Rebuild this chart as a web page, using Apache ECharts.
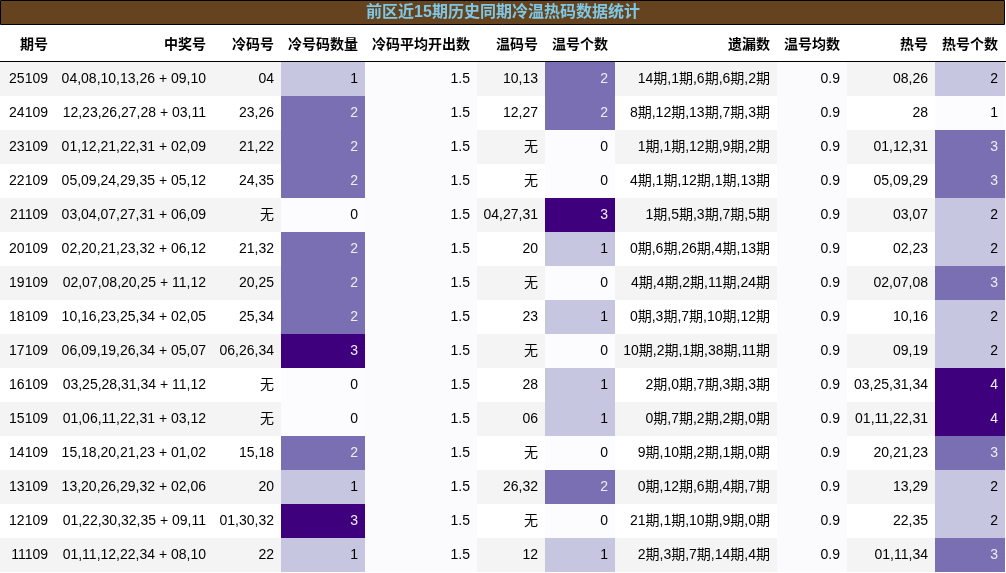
<!DOCTYPE html>
<html><head><meta charset="utf-8">
<script src="https://cdn.jsdelivr.net/npm/echarts@6/dist/echarts.min.js"></script>
<style>html,body{margin:0;padding:0;background:#fff}#c{width:1006px;height:573px}</style>
</head><body><div id="c"></div>
<script>
const title = '前区近15期历史同期冷温热码数据统计';
const headers = ['期号','中奖号','冷码号','冷号码数量','冷码平均开出数','温码号','温号个数','遗漏数','温号均数','热号','热号个数'];
const periods = ['25109','24109','23109','22109','21109','20109','19109','18109','17109','16109','15109','14109','13109','12109','11109'];
const winning = ['04,08,10,13,26 + 09,10','12,23,26,27,28 + 03,11','01,12,21,22,31 + 02,09','05,09,24,29,35 + 05,12','03,04,07,27,31 + 06,09','02,20,21,23,32 + 06,12','02,07,08,20,25 + 11,12','10,16,23,25,34 + 02,05','06,09,19,26,34 + 05,07','03,25,28,31,34 + 11,12','01,06,11,22,31 + 03,12','15,18,20,21,23 + 01,02','13,20,26,29,32 + 02,06','01,22,30,32,35 + 09,11','01,11,12,22,34 + 08,10'];
const cold = ['04','23,26','21,22','24,35','无','21,32','20,25','25,34','06,26,34','无','无','15,18','20','01,30,32','22'];
const coldCount = [1,2,2,2,0,2,2,2,3,0,0,2,1,3,1];
const coldAvg = Array(15).fill(1.5);
const warm = ['10,13','12,27','无','无','04,27,31','20','无','23','无','28','06','无','26,32','无','12'];
const warmCount = [2,2,0,0,3,1,0,1,0,1,1,0,2,0,1];
const miss = ['14期,1期,6期,6期,2期','8期,12期,13期,7期,3期','1期,1期,12期,9期,2期','4期,1期,12期,1期,13期','1期,5期,3期,7期,5期','0期,6期,26期,4期,13期','4期,4期,2期,11期,24期','0期,3期,7期,10期,12期','10期,2期,1期,38期,11期','2期,0期,7期,3期,3期','0期,7期,2期,2期,0期','9期,10期,2期,1期,0期','0期,12期,6期,4期,7期','21期,1期,10期,9期,0期','2期,3期,7期,14期,4期'];
const warmAvg = Array(15).fill(0.9);
const hot = ['08,26','28','01,12,31','05,09,29','03,07','02,23','02,07,08','10,16','09,19','03,25,31,34','01,11,22,31','20,21,23','13,29','22,35','01,11,34'];
const hotCount = [2,1,3,3,2,2,3,2,2,4,4,3,2,2,3];

const columns = [periods,winning,cold,coldCount,coldAvg,warm,warmCount,miss,warmAvg,hot,hotCount];
const edges = [0,55,213,281,365,477,545,615,777,847,935,1005];
const countCols = {3:coldCount,6:warmCount,10:hotCount};
const scale = ['#fcfbfd','#c6c6e1','#7b6fb3','#3f007d'];
const FONT = '"Liberation Sans","Noto Sans CJK SC",sans-serif';

const data = [];
for (let r=0;r<15;r++) for (let c=0;c<11;c++) data.push([c,r]);

const chart = echarts.init(document.getElementById('c'));
const graphics = [
  {type:'rect',shape:{x:0.5,y:0.5,width:1004,height:24},style:{fill:'#65431f',stroke:'#000',lineWidth:1}},
  {type:'text',x:503,y:13,style:{text:title,fill:'#7ec8e6',font:'bold 16px '+FONT,align:'center',verticalAlign:'middle'}},
  {type:'line',shape:{x1:0,y1:61.5,x2:1006,y2:61.5},style:{stroke:'#000',lineWidth:1}}
];
headers.forEach((h,i)=>{
  graphics.push({type:'text',x:edges[i+1]-7,y:45,style:{text:h,fill:'#000',font:'bold 14px '+FONT,align:'right',verticalAlign:'middle'}});
});

chart.setOption({
  animation:false,
  grid:{left:0,right:0,top:62,bottom:1},
  xAxis:{type:'value',min:0,max:1006,show:false},
  yAxis:{type:'value',min:0,max:15,inverse:true,show:false},
  graphic:graphics,
  series:[{
    type:'custom',
    data:data,
    renderItem:function(params,api){
      const c=api.value(0), r=api.value(1);
      const p0=api.coord([edges[c],r]), p1=api.coord([edges[c+1],r+1]);
      let fill = r%2===0 ? '#f4f4f4' : '#ffffff';
      let tc = '#000';
      const val = columns[c][r];
      if (countCols[c]) {
        const arr=countCols[c]; const mn=Math.min(...arr);
        const k=Math.min(3,val-mn);
        fill=scale[k]; if(k>=2) tc='#eeeeee';
      } else if (c===4||c===8) fill='#fbfbfd';
      return {type:'group',children:[
        {type:'rect',shape:{x:p0[0],y:p0[1],width:p1[0]-p0[0],height:p1[1]-p0[1]},style:{fill:fill}},
        {type:'text',x:p1[0]-7,y:(p0[1]+p1[1])/2,style:{text:String(val),fill:tc,font:'14px '+FONT,align:'right',verticalAlign:'middle'}}
      ]};
    }
  }]
});
</script></body></html>
